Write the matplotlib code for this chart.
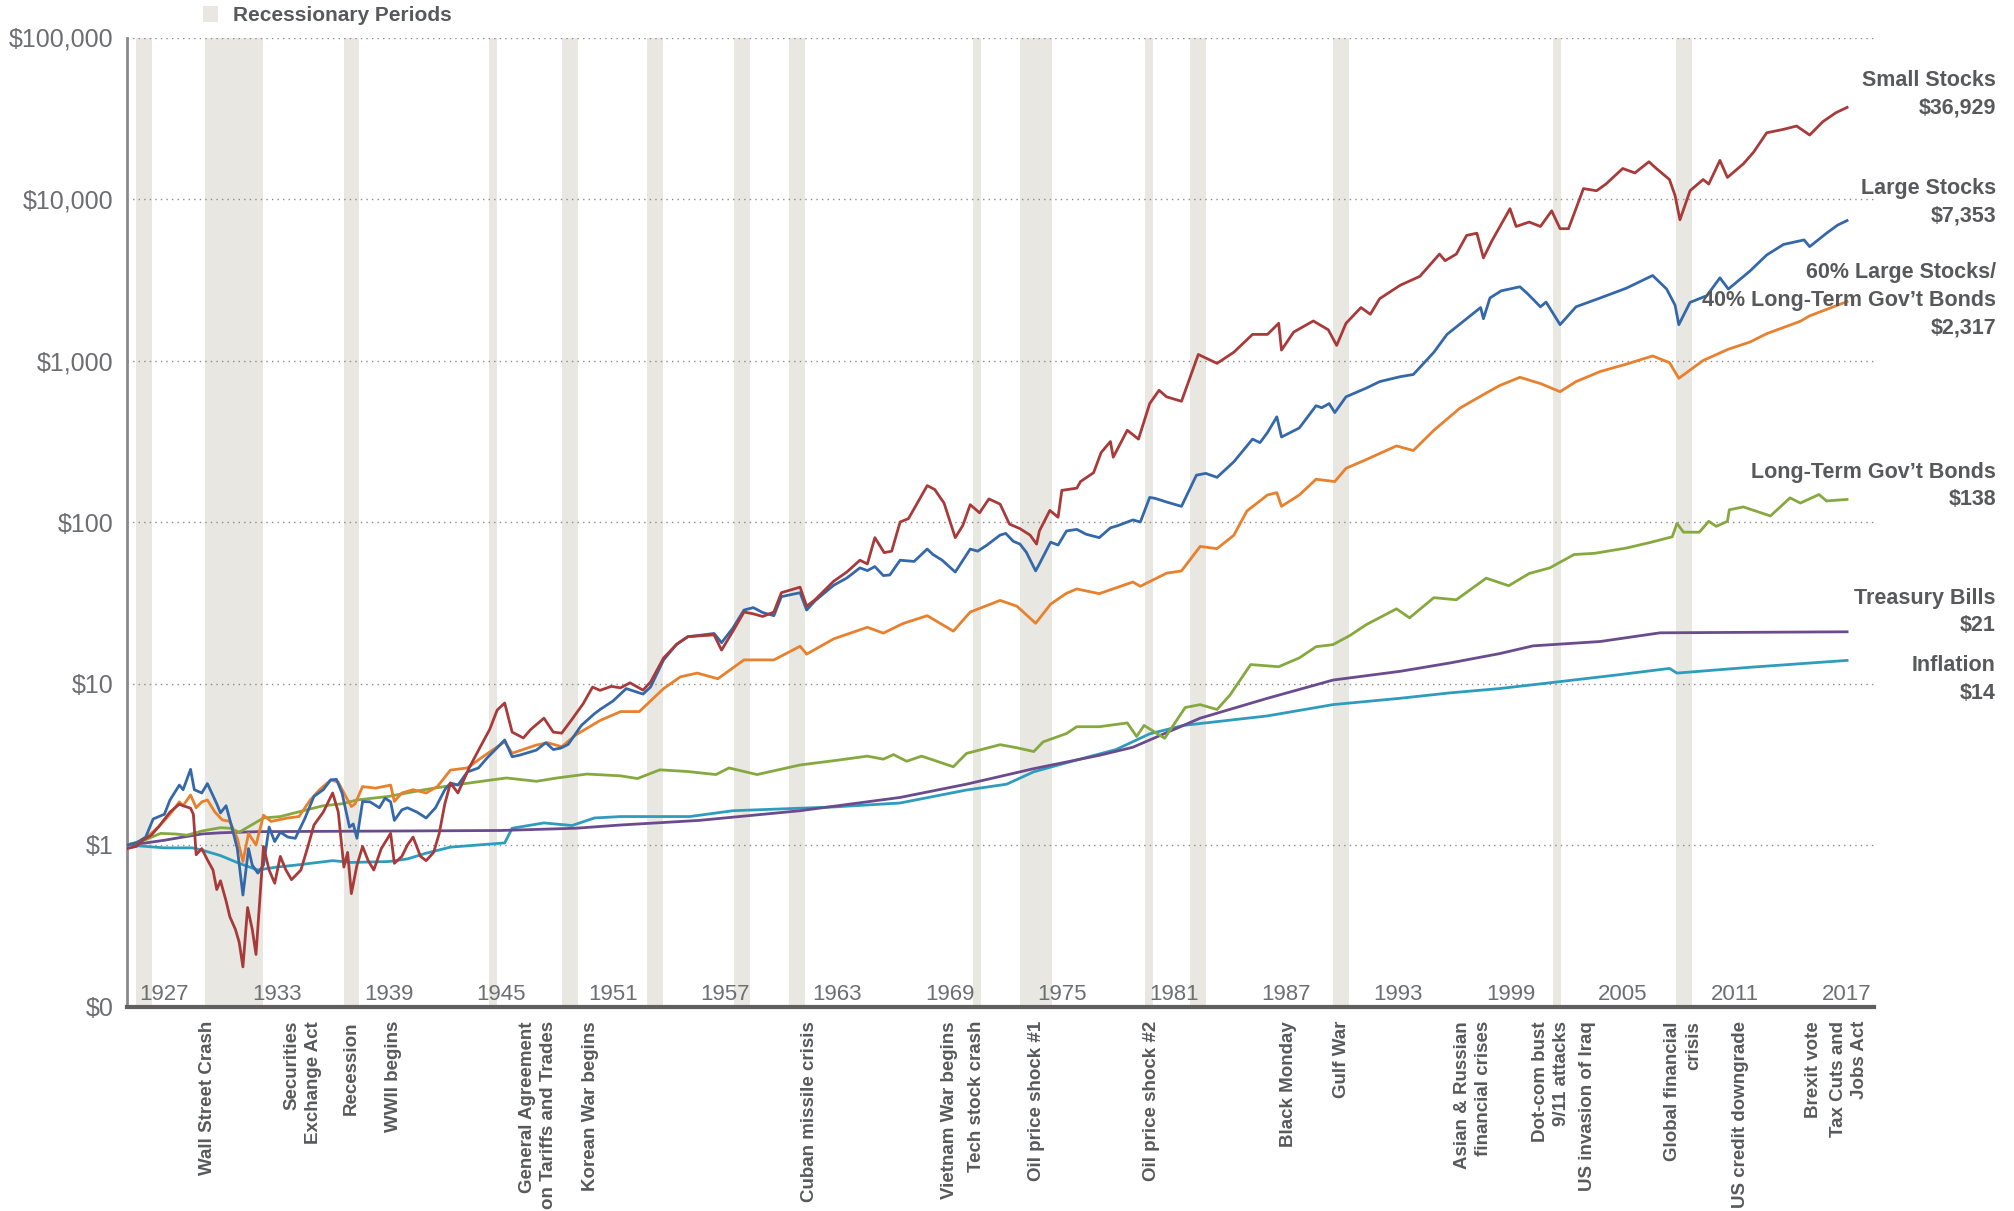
import matplotlib
matplotlib.use("Agg")
import matplotlib.pyplot as plt
from matplotlib.patches import Patch
from matplotlib.ticker import FixedLocator, NullLocator
import matplotlib.transforms as mtransforms

# growth of $1 invested in 1926
small_t = [1926.0, 1926.5, 1926.85, 1927.3, 1927.7, 1928.3, 1928.8, 1929.0, 1929.4, 1929.55, 1929.7,
           1930.0, 1930.3, 1930.6, 1930.8, 1931.0, 1931.3, 1931.5, 1931.8, 1932.0, 1932.2, 1932.45,
           1932.7, 1932.9, 1933.3, 1933.6, 1933.9, 1934.2, 1934.5, 1934.8, 1935.3, 1935.7, 1936.0,
           1936.5, 1937.0, 1937.3, 1937.6, 1937.8, 1938.0, 1938.3, 1938.6, 1938.9, 1939.2, 1939.6,
           1940.1, 1940.3, 1940.7, 1941.0, 1941.3, 1941.7, 1942.0, 1942.4, 1942.7, 1943.0, 1943.3,
           1943.7, 1944.3, 1944.9, 1945.4, 1945.8, 1946.2, 1946.6, 1947.2, 1947.6, 1948.3, 1948.8,
           1949.25, 1949.8, 1950.4, 1950.9, 1951.3, 1951.9, 1952.4, 1952.9, 1953.6, 1954.0, 1954.7,
           1955.4, 1956.0, 1957.4, 1957.8, 1958.4, 1959.0, 1959.5, 1960.0, 1960.6, 1961.0, 1962.0,
           1962.35, 1962.8, 1963.8, 1964.5, 1965.2, 1965.6, 1966.0, 1966.5, 1966.9, 1967.35, 1967.8,
           1968.1, 1968.8, 1969.2, 1969.7, 1970.3, 1970.7, 1971.1, 1971.6, 1972.1, 1972.7, 1973.2,
           1973.76, 1974.3, 1974.65, 1974.8, 1975.36, 1975.8, 1976.0, 1976.8, 1977.0, 1977.7, 1978.1,
           1978.6, 1978.75, 1979.5, 1980.1, 1980.7, 1981.2, 1981.6, 1982.4, 1983.3, 1984.3, 1985.2,
           1986.2, 1987.0, 1987.6, 1987.75, 1988.4, 1989.45, 1990.25, 1990.7, 1991.2, 1992.0, 1992.5,
           1993.0, 1994.1, 1995.15, 1996.2, 1996.5, 1997.1, 1997.65, 1998.2, 1998.55, 1999.0, 1999.97,
           2000.3, 2001.0, 2001.6, 2002.2, 2002.65, 2003.1, 2003.9, 2004.6, 2005.1, 2006.0, 2006.65,
           2007.4, 2007.8, 2008.5, 2008.8, 2009.06, 2009.6, 2010.3, 2010.6, 2011.2, 2011.6, 2012.45,
           2013.0, 2013.7, 2014.6, 2015.3, 2016.0, 2016.7, 2017.4, 2018.0]
small_v = [0.95, 0.98, 1.07, 1.15, 1.3, 1.6, 1.79, 1.75, 1.69, 1.55, 0.87,
           0.95, 0.81, 0.7, 0.53, 0.6, 0.45, 0.36, 0.3, 0.25, 0.176, 0.41,
           0.3, 0.21, 0.98, 0.7, 0.58, 0.85, 0.7, 0.61, 0.7, 1.0, 1.33,
           1.6, 2.1, 1.6, 0.73, 0.9, 0.5, 0.75, 0.98, 0.8, 0.7, 0.95,
           1.18, 0.77, 0.85, 1.0, 1.12, 0.85, 0.8, 0.9, 1.18, 1.8, 2.42,
           2.1, 3.0, 4.06, 5.2, 6.85, 7.57, 5.0, 4.6, 5.2, 6.1, 5.0,
           4.93, 6.0, 7.5, 9.5, 9.07, 9.6, 9.4, 10.1, 9.1, 10.2, 14.4,
           17.5, 19.5, 20.0, 16.1, 21, 27.7, 27, 26, 27.7, 36.5, 39.5,
           30.1, 33, 43, 49, 58, 55, 80, 64.6, 66, 100, 105,
           121, 168, 159, 131, 80, 95, 128, 114, 139, 129, 97,
           91, 83, 73, 88, 118, 107, 157, 162, 178, 202, 269,
           315, 252, 370, 326, 541, 654, 596, 559, 1090, 960, 1125,
           1451, 1451, 1700, 1160, 1500, 1757, 1550, 1240, 1700, 2128, 1933,
           2415, 2924, 3320, 4560, 4150, 4560, 5950, 6140, 4320, 5500, 8710,
           6760, 7200, 6760, 8450, 6550, 6550, 11600, 11250, 12370, 15450, 14500,
           17000, 15450, 13200, 10500, 7430, 11250, 13200, 12370, 17340, 13600, 16500,
           19500, 25700, 27000, 28300, 24900, 30100, 34200, 36929]

large_t = [1926.0, 1926.5, 1927.0, 1927.4, 1928.0, 1928.3, 1928.8, 1929.0, 1929.4, 1929.6, 1930.0,
           1930.3, 1930.8, 1931.0, 1931.3, 1931.6, 1931.9, 1932.2, 1932.5, 1932.7, 1933.0, 1933.3,
           1933.6, 1933.9, 1934.2, 1934.6, 1935.0, 1935.5, 1936.0, 1936.5, 1936.9, 1937.2, 1937.5,
           1937.9, 1938.1, 1938.3, 1938.6, 1939.0, 1939.5, 1939.8, 1940.1, 1940.3, 1940.7, 1941.0,
           1941.5, 1942.0, 1942.5, 1943.0, 1943.3, 1943.7, 1944.2, 1944.8, 1945.3, 1945.8, 1946.2,
           1946.6, 1947.0, 1947.9, 1948.4, 1948.8, 1949.2, 1949.6, 1950.3, 1951.0, 1951.3, 1952.0,
           1952.7, 1953.6, 1954.0, 1954.7, 1955.4, 1956.0, 1956.5, 1957.4, 1957.8, 1958.4, 1959.0,
           1959.5, 1960.0, 1960.6, 1961.0, 1962.0, 1962.35, 1962.8, 1963.8, 1964.5, 1965.2, 1965.6,
           1966.0, 1966.45, 1966.8, 1967.35, 1968.1, 1968.8, 1969.1, 1969.6, 1970.3, 1971.1, 1971.5,
           1972.0, 1972.7, 1973.0, 1973.4, 1973.76, 1974.1, 1974.6, 1974.8, 1975.4, 1975.8, 1976.25,
           1976.8, 1977.3, 1978.0, 1978.6, 1979.0, 1979.8, 1980.2, 1980.7, 1981.0, 1981.6, 1982.4,
           1983.2, 1983.7, 1984.3, 1985.2, 1986.2, 1986.6, 1987.0, 1987.5, 1987.75, 1988.7, 1989.6,
           1989.9, 1990.3, 1990.6, 1991.2, 1992.3, 1993.0, 1994.1, 1994.8, 1995.9, 1996.6, 1997.65,
           1998.4, 1998.55, 1998.9, 1999.5, 2000.5, 2000.9, 2001.6, 2001.9, 2002.65, 2003.5, 2004.8,
           2006.2, 2007.6, 2008.35, 2008.8, 2009.0, 2009.6, 2010.5, 2011.2, 2011.65, 2012.8, 2013.7,
           2014.6, 2015.7, 2016.0, 2016.9, 2017.5, 2018.0]
large_v = [1.0, 1.03, 1.12, 1.45, 1.55, 1.9, 2.35, 2.2, 2.94, 2.2, 2.1,
           2.4, 1.8, 1.58, 1.75, 1.3, 0.95, 0.49, 0.95, 0.75, 0.67, 0.75,
           1.29, 1.05, 1.2, 1.12, 1.1, 1.45, 2.0, 2.2, 2.53, 2.55, 2.1,
           1.29, 1.35, 1.1, 1.86, 1.85, 1.7, 1.95, 1.85, 1.42, 1.65, 1.7,
           1.6, 1.47, 1.7, 2.2, 2.42, 2.35, 2.83, 3.0, 3.5, 4.0, 4.47,
           3.52, 3.6, 3.87, 4.3, 3.9, 3.98, 4.2, 5.5, 6.5, 6.9, 7.8,
           9.3, 8.6, 9.5, 14.0, 17.5, 19.5, 19.8, 20.4, 17.9, 22, 28.5,
           29.5, 27.5, 26.3, 34.5, 36.5, 28.5, 32.5, 40.6, 45, 52, 50,
           53, 46.6, 47, 58, 57, 68, 63, 58, 49, 68, 66,
           72, 83, 85, 76, 73, 65, 49.8, 55, 75, 72, 88,
           90, 84, 80, 92, 95, 103, 100, 142, 140, 133, 125,
           195, 200, 189, 236, 326, 310, 358, 448, 336, 382, 525,
           510, 541, 476, 596, 676, 740, 794, 819, 1125, 1451, 1815,
           2128, 1815, 2440, 2700, 2860, 2600, 2150, 2300, 1667, 2150, 2440,
           2806, 3360, 2770, 2200, 1667, 2290, 2520, 3250, 2770, 3575, 4500,
           5230, 5580, 5070, 6140, 6900, 7353]

mix_t = [1926.0, 1926.5, 1927.0, 1927.7, 1928.3, 1928.8, 1929.0, 1929.4, 1929.7, 1930.0, 1930.3,
         1930.7, 1931.1, 1931.5, 1931.9, 1932.2, 1932.5, 1932.9, 1933.3, 1933.7, 1934.6, 1935.2,
         1935.8, 1936.3, 1936.9, 1937.3, 1937.7, 1938.0, 1938.2, 1938.6, 1939.3, 1940.1, 1940.3,
         1940.7, 1941.3, 1942.0, 1942.6, 1943.3, 1944.2, 1945.0, 1946.2, 1946.6, 1947.9, 1948.5,
         1949.25, 1950.0, 1951.3, 1952.4, 1953.4, 1954.7, 1955.6, 1956.5, 1957.6, 1959.0, 1960.6,
         1962.0, 1962.35, 1963.8, 1965.6, 1966.45, 1967.5, 1968.8, 1970.2, 1971.1, 1972.7, 1973.6,
         1974.6, 1975.4, 1976.25, 1976.8, 1978.0, 1979.8, 1980.2, 1981.6, 1982.4, 1983.4, 1984.3,
         1985.2, 1985.9, 1987.0, 1987.5, 1987.75, 1988.7, 1989.6, 1990.6, 1991.2, 1992.3, 1993.9,
         1994.8, 1995.9, 1997.3, 1998.55, 1999.4, 2000.5, 2001.6, 2002.65, 2003.5, 2004.8, 2006.2,
         2007.6, 2008.5, 2009.0, 2010.3, 2011.65, 2012.8, 2013.7, 2015.5, 2016.0, 2018.0]
mix_v = [1.0, 1.03, 1.1, 1.3, 1.55, 1.85, 1.75, 2.04, 1.7, 1.85, 1.9,
         1.6, 1.43, 1.4, 1.1, 0.79, 1.18, 1.0, 1.53, 1.4, 1.47, 1.5,
         1.9, 2.2, 2.53, 2.45, 2.0, 1.73, 1.8, 2.3, 2.25, 2.35, 1.86,
         2.1, 2.2, 2.1, 2.3, 2.91, 3.0, 3.5, 4.36, 3.7, 4.16, 4.3,
         4.06, 4.8, 5.9, 6.7, 6.7, 9.3, 11, 11.6, 10.7, 14, 14,
         17, 15.2, 18.9, 22.3, 20.5, 23.5, 26.3, 21.1, 27.7, 32.7, 30.1,
         23.6, 31, 36.2, 38.5, 36.0, 42.5, 40, 48.2, 49.8, 70.6, 68.4,
         82.8, 117, 147, 152, 125, 147, 184, 178, 215, 244, 296,
         277, 370, 508, 615, 698, 787, 720, 641, 740, 855, 950,
         1067, 970, 776, 1000, 1175, 1300, 1466, 1750, 1890, 2317]

bonds_t = [1926.0, 1927.0, 1927.8, 1928.6, 1929.2, 1930.0, 1931.0, 1931.5, 1932.0, 1933.3, 1934.2,
           1935.6, 1936.5, 1937.5, 1938.3, 1940.0, 1941.9, 1943.5, 1945.4, 1946.3, 1947.9, 1949.0,
           1950.6, 1952.4, 1953.3, 1954.5, 1956.0, 1957.5, 1958.2, 1959.7, 1962.0, 1964.0, 1965.6,
           1966.45, 1967.0, 1967.7, 1968.5, 1970.2, 1970.9, 1972.7, 1973.6, 1974.5, 1975.0, 1976.25,
           1976.8, 1978.0, 1979.5, 1980.0, 1980.4, 1981.5, 1982.6, 1983.4, 1984.3, 1985.0, 1986.1,
           1987.6, 1988.7, 1989.6, 1990.5, 1991.4, 1992.3, 1993.9, 1994.6, 1995.9, 1997.1, 1998.7,
           1999.9, 2001.0, 2002.1, 2003.4, 2004.5, 2006.2, 2007.45, 2008.65, 2008.9, 2009.25, 2010.1,
           2010.6, 2011.0, 2011.6, 2011.7, 2012.45, 2013.9, 2014.95, 2015.5, 2016.5, 2016.9, 2018.0]
bonds_v = [1.0, 1.08, 1.18, 1.17, 1.15, 1.22, 1.28, 1.27, 1.2, 1.47, 1.5,
           1.65, 1.75, 1.8, 1.9, 2.0, 2.2, 2.35, 2.52, 2.6, 2.48, 2.6,
           2.75, 2.68, 2.58, 2.92, 2.85, 2.73, 3.0, 2.73, 3.13, 3.35, 3.55,
           3.4, 3.63, 3.3, 3.55, 3.05, 3.69, 4.18, 4.0, 3.79, 4.35, 4.9,
           5.4, 5.4, 5.7, 4.7, 5.5, 4.58, 7.1, 7.4, 6.9, 8.5, 13.1,
           12.7, 14.4, 16.9, 17.4, 19.8, 23.2, 29.0, 25.5, 34, 33, 44.9,
           40.3, 48, 52, 62.9, 64, 69, 74.6, 81, 98, 86.5, 86.5,
           101, 94, 101, 119, 124, 109, 141, 131, 148, 135, 138]

bills_t = [1926.0, 1927.0, 1928.0, 1929.0, 1930.0, 1931.0, 1933.0, 1940.0, 1946.0, 1950.0, 1952.4,
           1956.6, 1962.0, 1967.35, 1970.9, 1974.5, 1978.0, 1979.8, 1983.4, 1987.0, 1990.5, 1994.1,
           1996.76, 1999.4, 2001.2, 2004.8, 2008.0, 2018.0]
bills_v = [1.0, 1.03, 1.07, 1.12, 1.17, 1.19, 1.21, 1.22, 1.23, 1.27, 1.33,
           1.42, 1.63, 1.97, 2.38, 2.97, 3.59, 4.03, 6.1, 8.1, 10.5, 11.9,
           13.4, 15.3, 17.1, 18.2, 20.6, 20.9]

infl_t = [1926.0, 1927.0, 1928.0, 1929.5, 1930.0, 1931.0, 1932.0, 1933.0, 1934.0, 1935.0, 1937.0,
          1938.0, 1940.0, 1941.0, 1942.0, 1943.3, 1946.2, 1946.6, 1948.3, 1949.8, 1951.0, 1952.4,
          1956.1, 1958.4, 1963.8, 1967.35, 1970.9, 1973.05, 1974.5, 1976.25, 1978.9, 1980.7, 1982.5,
          1987.0, 1990.5, 1994.1, 1996.76, 1999.4, 2002.1, 2005.7, 2008.5, 2008.9, 2012.8, 2018.0]
infl_v = [1.0, 0.98, 0.96, 0.96, 0.93, 0.86, 0.77, 0.70, 0.73, 0.75, 0.80,
          0.78, 0.79, 0.82, 0.89, 0.97, 1.03, 1.27, 1.37, 1.32, 1.47, 1.50,
          1.5, 1.63, 1.72, 1.82, 2.19, 2.38, 2.84, 3.23, 3.9, 4.88, 5.5,
          6.3, 7.4, 8.1, 8.75, 9.3, 10.1, 11.3, 12.4, 11.6, 12.6, 13.9]

recessions = [(1926.48, 1927.34), (1930.17, 1933.27), (1937.6, 1938.4), (1945.36, 1945.79),
              (1949.26, 1950.1), (1953.8, 1954.65), (1958.46, 1959.3), (1961.4, 1962.26),
              (1971.24, 1971.67), (1973.75, 1975.46), (1980.44, 1980.87), (1982.85, 1983.7),
              (1990.5, 1991.35), (2002.27, 2002.7), (2008.85, 2009.7)]

year_labels = list(range(1927, 2018, 6))
y_ticks = [0.1, 1, 10, 100, 1000, 10000, 100000]
y_labels = ["$0", "$1", "$10", "$100", "$1,000", "$10,000", "$100,000"]

events = [(1930.28, "Wall Street Crash"), (1935.41, "Securities\nExchange Act"),
          (1937.98, "Recession"), (1940.23, "WWII begins"),
          (1947.98, "General Agreement\non Tariffs and Trades"), (1950.77, "Korean War begins"),
          (1962.48, "Cuban missile crisis"), (1969.97, "Vietnam War begins"),
          (1971.46, "Tech stock crash"), (1974.62, "Oil price shock #1"),
          (1980.77, "Oil price shock #2"), (1988.1, "Black Monday"), (1990.96, "Gulf War"),
          (1997.99, "Asian & Russian\nfinancial crises"), (2002.17, "Dot-com bust\n9/11 attacks"),
          (2004.09, "US invasion of Iraq"), (2009.23, "Global financial\ncrisis"),
          (2012.28, "US credit downgrade"), (2016.23, "Brexit vote"),
          (2018.1, "Tax Cuts and\nJobs Act")]

series = [
    (small_t, small_v, "#a83a3a", "Small Stocks\n$36,929", 94),
    (large_t, large_v, "#3468a8", "Large Stocks\n$7,353", 202.5),
    (mix_t, mix_v, "#e8802e", "60% Large Stocks/\n40% Long-Term Gov\u2019t Bonds\n$2,317", 300.5),
    (bonds_t, bonds_v, "#86a93f", "Long-Term Gov\u2019t Bonds\n$138", 486),
    (bills_t, bills_v, "#6a4c8e", "Treasury Bills\n$21", 612),
    (infl_t, infl_v, "#2e9cbd", "Inflation\n$14", 679.5),
]

band_color = "#e8e7e2"
text_gray = "#58595b"
tick_gray = "#6d6e71"
plt.rcParams['font.family'] = ['Liberation Sans', 'DejaVu Sans']

W, H = 2015, 1211
fig = plt.figure(figsize=(W / 100, H / 100), dpi=100)
ax = fig.add_axes([127 / W, 1 - 1006.5 / H, 1747 / W, 969 / H])

for a, b in recessions:
    ax.axvspan(a, b, color=band_color, lw=0, zorder=0)

for t, v, c, lab, ypx in series[::-1]:
    ax.plot(t, v, color=c, lw=2.0, zorder=3, solid_joinstyle='round')

for t, v, c, lab, ypx in series:
    fig.text(1996 / W, 1 - ypx / H, lab, ha='right', va='center', multialignment='right',
             fontsize=15.5, fontweight='bold', color=text_gray, linespacing=1.42)

ax.set_yscale('log')
ax.set_ylim(0.1, 100000)
ax.set_xlim(1926.0, 2019.44)
ax.yaxis.set_major_locator(FixedLocator(y_ticks))
ax.yaxis.set_minor_locator(NullLocator())
ax.set_yticklabels(y_labels)
ax.set_xticks([y + 1.0 for y in year_labels])
ax.set_xticklabels([str(y) for y in year_labels])
ax.tick_params(axis='y', length=0, pad=9.5, labelsize=18, labelcolor=tick_gray)
ax.tick_params(axis='x', length=0, pad=-16.5, labelsize=16, labelcolor=tick_gray)
ax.yaxis.grid(True, linestyle=(0, (1, 3)), color='#8c8c8c', lw=1.0, zorder=1)

for s in ['top', 'right']:
    ax.spines[s].set_visible(False)
ax.spines['left'].set_color('#8a8a8a')
ax.spines['left'].set_linewidth(2)
ax.spines['bottom'].set_color('#5f5f5f')
ax.spines['bottom'].set_linewidth(3)
ax.spines['bottom'].set_zorder(4)

trans = mtransforms.blended_transform_factory(ax.transData, ax.transAxes)
for x, lab in events:
    ax.text(x, -0.015, lab, transform=trans, rotation=90, ha='center', va='top',
            multialignment='right', fontsize=13.5, fontweight='bold', color=text_gray,
            linespacing=1.3, clip_on=False)

fig.legend(handles=[Patch(facecolor=band_color, edgecolor='none', label='Recessionary Periods')],
           loc='center left', bbox_to_anchor=(203 / W, 1 - 15.5 / H), frameon=False,
           borderpad=0, borderaxespad=0, handlelength=0.72, handleheight=0.8,
           handletextpad=0.7, labelcolor=text_gray,
           prop=dict(family='Liberation Sans', weight='bold', size=15))

fig.savefig("out.png", dpi=100)
